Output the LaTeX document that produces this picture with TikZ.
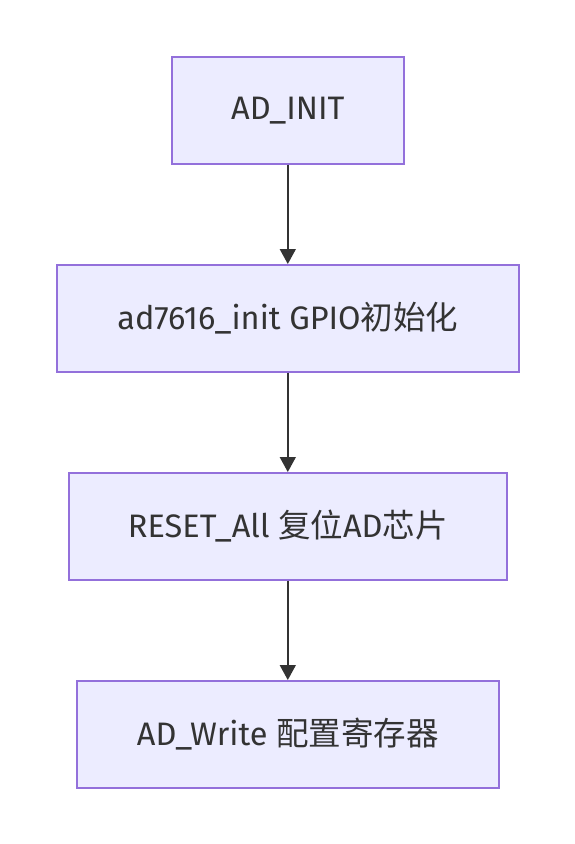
\documentclass[tikz,border=0pt]{standalone}
\usepackage{fontspec}
\setmainfont{Fira Sans}
\newfontfamily\cjk{Noto Sans CJK SC}
\usetikzlibrary{arrows.meta}
\definecolor{boxfill}{HTML}{ECECFF}
\definecolor{boxdraw}{HTML}{9370DB}
\definecolor{txt}{HTML}{333333}
\tikzset{
  flowbox/.style={draw=boxdraw, fill=boxfill, line width=1.6pt, inner sep=0pt, text=txt,
    font=\fontsize{32.5}{38}\selectfont, anchor=north west},
  flowarrow/.style={draw=txt, line width=1.6pt, -{Triangle[width=16pt,length=15pt]}}
}
\begin{document}
\begin{tikzpicture}[x=1pt,y=-1pt]
\useasboundingbox (0,0) rectangle (574,844);
\node[flowbox, minimum width=232pt, minimum height=107pt] (a) at (171,56) {AD\_INIT};
\node[flowbox, minimum width=462pt, minimum height=107pt] (b) at (56,264) {ad7616\_init GPIO{\cjk 初始化}};
\node[flowbox, minimum width=438pt, minimum height=107pt] (c) at (68,472) {RESET\_All {\cjk 复位}AD{\cjk 芯片}};
\node[flowbox, minimum width=422pt, minimum height=107pt] (d) at (76,680) {AD\_Write {\cjk 配置寄存器}};
\draw[flowarrow] (a.south) -- (b.north);
\draw[flowarrow] (b.south) -- (c.north);
\draw[flowarrow] (c.south) -- (d.north);
\end{tikzpicture}
\end{document}
